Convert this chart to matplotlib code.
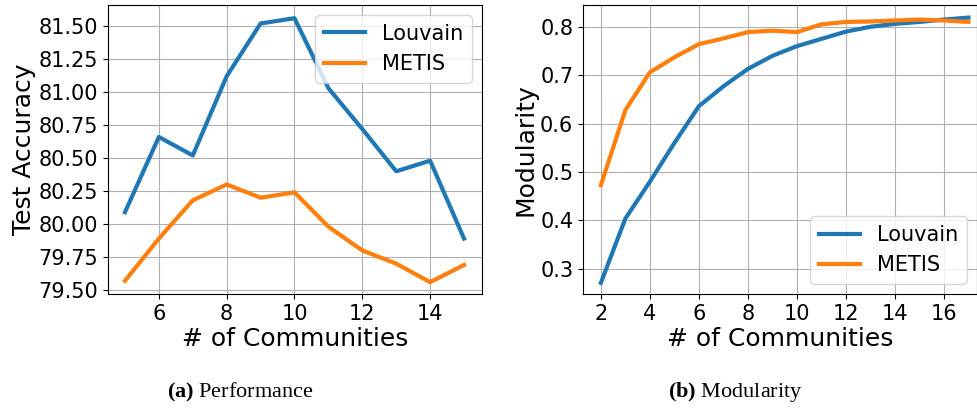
import matplotlib.pyplot as plt

# (a) Performance
comm_a = [5, 6, 7, 8, 9, 10, 11, 12, 13, 14, 15]
louvain_acc = [80.09, 80.66, 80.52, 81.12, 81.52, 81.56, 81.03, 80.72, 80.40, 80.48, 79.89]
metis_acc = [79.57, 79.89, 80.18, 80.30, 80.20, 80.24, 79.98, 79.80, 79.70, 79.56, 79.69]

# (b) Modularity
comm_b = list(range(2, 18))
louvain_mod = [0.271, 0.404, 0.480, 0.560, 0.636, 0.677, 0.713, 0.740, 0.760, 0.775,
               0.790, 0.800, 0.806, 0.810, 0.815, 0.819]
metis_mod = [0.473, 0.628, 0.706, 0.737, 0.764, 0.776, 0.789, 0.792, 0.789, 0.805,
             0.810, 0.811, 0.813, 0.815, 0.813, 0.810]

acc_ticks = [79.50, 79.75, 80.00, 80.25, 80.50, 80.75, 81.00, 81.25, 81.50]

plt.rcParams['mathtext.fontset'] = 'custom'
plt.rcParams['mathtext.rm'] = 'Liberation Serif'
plt.rcParams['mathtext.bf'] = 'Liberation Serif:bold'

fig = plt.figure(figsize=(9.77, 4.08), dpi=100)
ax1 = fig.add_axes([108/977, 114/408, 374/977, 289/408])
ax2 = fig.add_axes([583/977, 114/408, 394/977, 289/408])

ax1.plot(comm_a, louvain_acc, color='#1f77b4', linewidth=3, label='Louvain')
ax1.plot(comm_a, metis_acc, color='#ff7f0e', linewidth=3, label='METIS')
ax1.set_xlim(4.5, 15.53)
ax1.set_ylim(79.47, 81.66)
ax1.set_xticks([6, 8, 10, 12, 14])
ax1.set_yticks(acc_ticks)
ax1.set_yticklabels(['%.2f' % v for v in acc_ticks])
ax1.grid(True)
ax1.tick_params(labelsize=15)
ax1.set_xlabel('# of Communities', fontsize=18, labelpad=2)
ax1.set_ylabel('Test Accuracy', fontsize=18, labelpad=2)
ax1.legend(loc='upper right', fontsize=15)

ax2.plot(comm_b, louvain_mod, color='#1f77b4', linewidth=3, label='Louvain')
ax2.plot(comm_b, metis_mod, color='#ff7f0e', linewidth=3, label='METIS')
ax2.set_xlim(1.27, 17.35)
ax2.set_ylim(0.248, 0.845)
ax2.set_xticks([2, 4, 6, 8, 10, 12, 14, 16])
ax2.grid(True)
ax2.tick_params(labelsize=15)
ax2.set_xlabel('# of Communities', fontsize=18, labelpad=2)
ax2.set_ylabel('Modularity', fontsize=18, labelpad=2)
ax2.legend(loc='lower right', fontsize=15)

fig.text(240/977, 1 - 392/408, r'$\mathbf{(a)}$ Performance', ha='center', va='center',
         fontsize=16, family='Liberation Serif')
fig.text(735/977, 1 - 392/408, r'$\mathbf{(b)}$ Modularity', ha='center', va='center',
         fontsize=16, family='Liberation Serif')

fig.savefig('out.png', dpi=100)
